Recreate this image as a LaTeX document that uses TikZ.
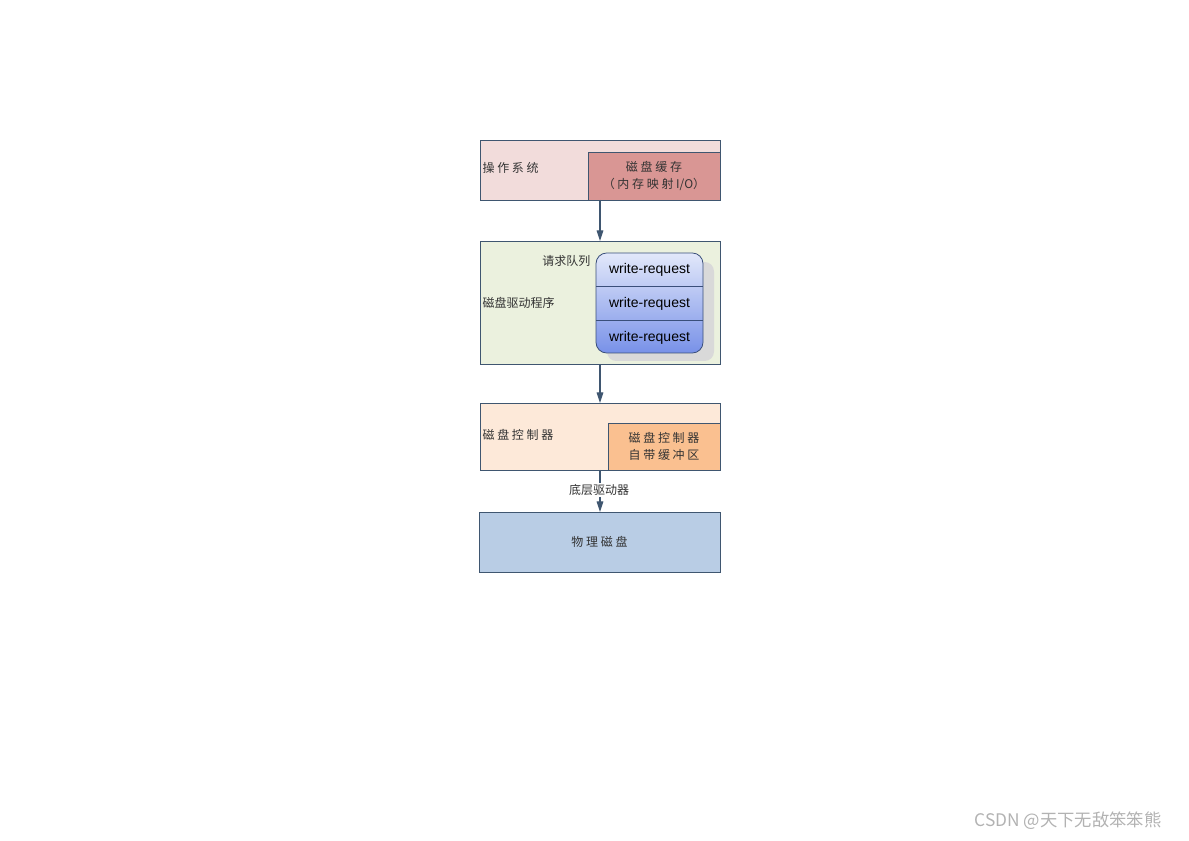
\documentclass[tikz,border=0pt]{standalone}
\usepackage{fontspec}
\setmainfont{Liberation Sans}
\newfontfamily\cjk{Noto Sans CJK SC}
\usetikzlibrary{arrows.meta}
\definecolor{edge}{HTML}{3F5670}
\definecolor{osfill}{HTML}{F2DCDB}
\definecolor{cachefill}{HTML}{D99694}
\definecolor{drvfill}{HTML}{EBF1DE}
\definecolor{ctlfill}{HTML}{FDE9D9}
\definecolor{bufffill}{HTML}{FAC090}
\definecolor{physfill}{HTML}{B9CDE5}
\definecolor{qtop}{HTML}{E2E8FA}
\definecolor{qbot}{HTML}{7891E8}
\definecolor{qedge}{HTML}{3A4F7A}
\tikzset{
  box/.style={draw=edge, line width=0.6pt, inner sep=0pt},
  lbl/.style={font=\cjk\fontsize{9}{11}\selectfont, text=black!80, inner sep=1pt},
  wr/.style={font=\fontsize{10.5}{12}\selectfont, text=black},
  conn/.style={draw=edge, line width=0.8pt, -{Triangle[length=8pt,width=5pt]}},
}
\begin{document}
\begin{tikzpicture}[x=0.75pt,y=-0.75pt]
\useasboundingbox (0,0) rectangle (1189,841);
% OS
\node[box, fill=osfill, minimum width=180pt, minimum height=45pt] (os) at (600,170) {};
\node[box, fill=cachefill, minimum width=99pt, minimum height=36pt, align=center, lbl] (cache) at (654,176) {磁 盘 缓 存\\[2pt]（ 内 存 映 射 I/O）};
\node[lbl, anchor=west] (oslbl) at (481,168) {操 作 系 统};
% Driver
\node[box, fill=drvfill, minimum width=180pt, minimum height=92.25pt] (drv) at (600,302.5) {};
\node[lbl, anchor=west] (drvlbl) at (481,303) {磁盘驱动程序};
\node[lbl, anchor=east] (qlbl) at (592,261) {请求队列};
\fill[black!15, rounded corners=7pt] (607,262) rectangle (714,361);
\shade[top color=qtop, bottom color=qbot, rounded corners=8pt] (596,253) rectangle (703,353);
\node[draw=qedge, line width=0.6pt, rounded corners=8pt, minimum width=80.25pt, minimum height=75pt] (queue) at (649.5,303) {};
\draw[qedge, line width=0.5pt] (596,286) -- (703,286);
\draw[qedge, line width=0.5pt] (596,320) -- (703,320);
\node[wr] (w1) at (649.5,270) {write-request};
\node[wr] (w2) at (649.5,304) {write-request};
\node[wr] (w3) at (649.5,338) {write-request};
% Controller
\node[box, fill=ctlfill, minimum width=180pt, minimum height=50.25pt] (ctl) at (600,436.5) {};
\node[box, fill=bufffill, minimum width=84pt, minimum height=35.25pt, align=center, lbl] (buf) at (664,446.5) {磁 盘 控 制 器\\[2pt]自 带 缓 冲 区};
\node[lbl, anchor=west] (ctllbl) at (481,435) {磁 盘 控 制 器};
% Physical
\node[box, fill=physfill, minimum width=180.75pt, minimum height=45pt, lbl] (phys) at (599.5,542) {物 理 磁 盘};
% connectors
\coordinate (a1) at (600,200);
\coordinate (a2) at (600,241);
\coordinate (b1) at (600,364);
\coordinate (b2) at (600,403);
\coordinate (c1) at (600,470);
\coordinate (c2) at (600,512);
\draw[conn] (a1) -- (a2);
\draw[conn] (b1) -- (b2);
\draw[conn] (c1) -- (c2);
\node[lbl, fill=white, inner sep=1pt] (bottomlbl) at (599,490) {底层驱动器};
\node[font=\cjk\fontsize{13}{15}\selectfont, text=black!30] (wm) at (1068,821) {CSDN @天下无敌笨笨熊};
\end{tikzpicture}
\end{document}
